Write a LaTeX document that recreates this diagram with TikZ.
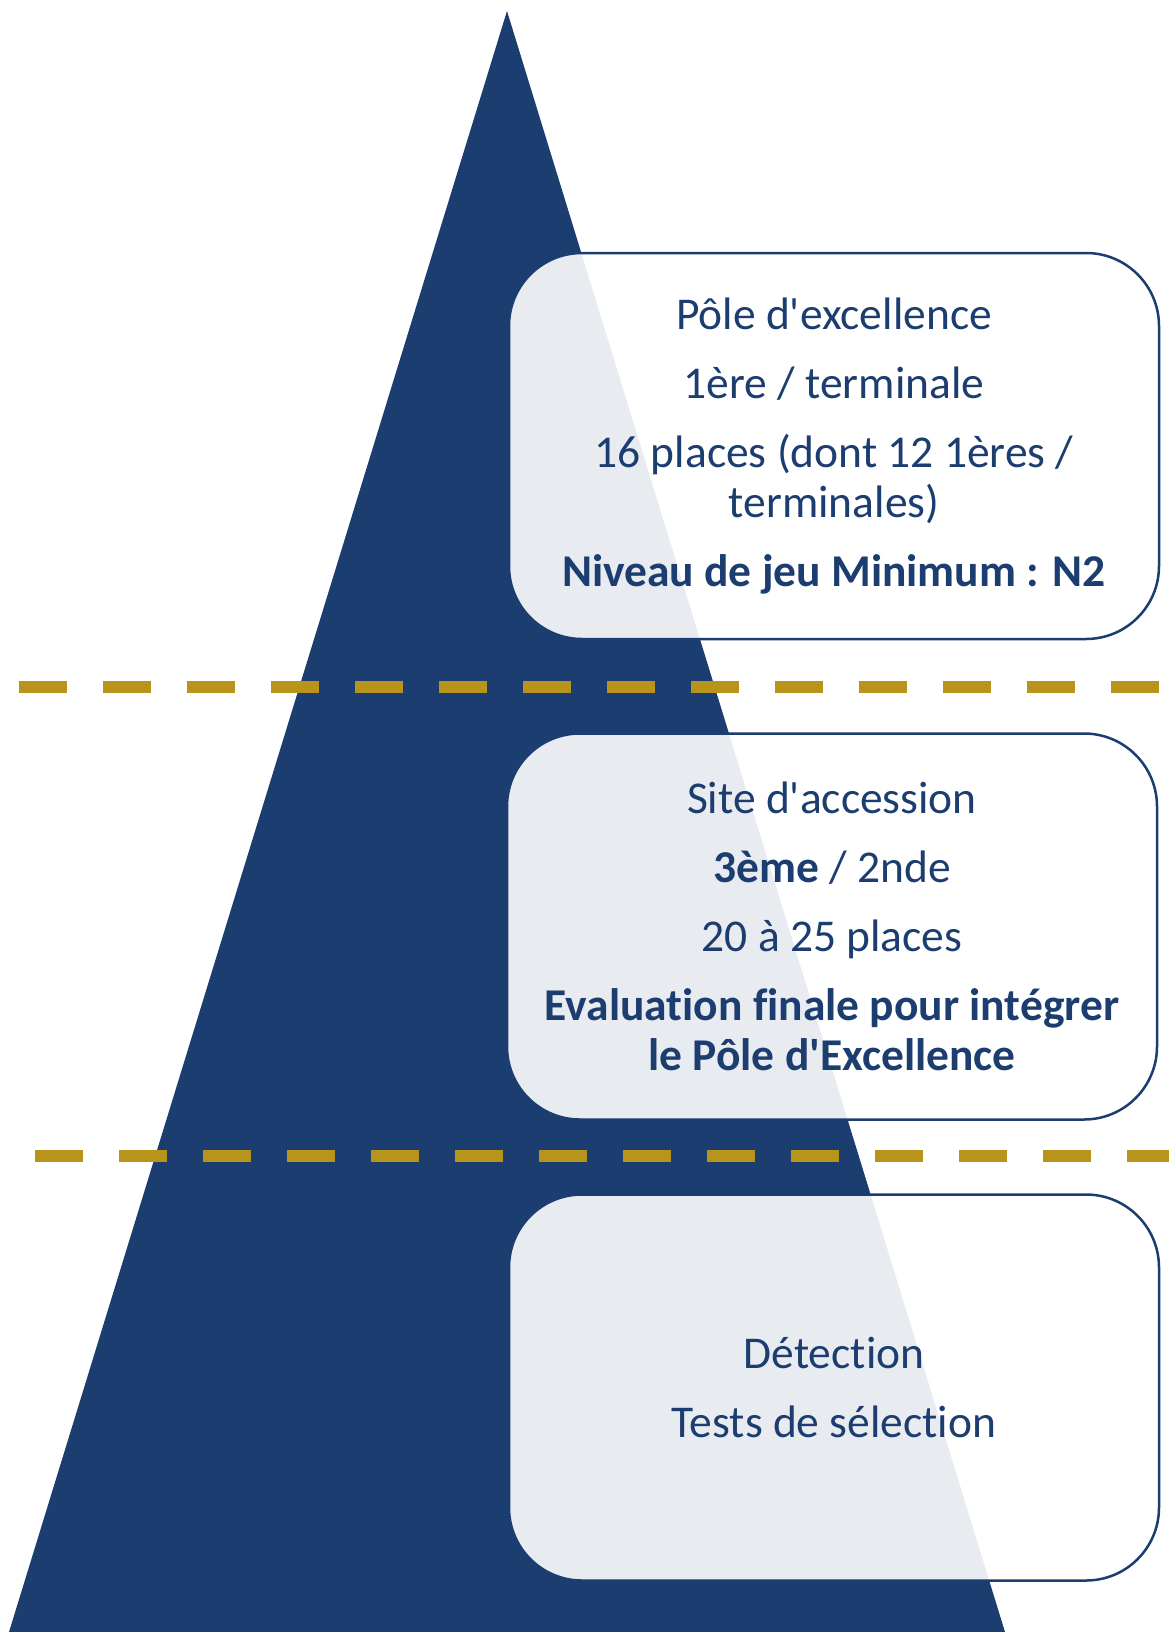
\documentclass[tikz,border=0pt]{standalone}
\usepackage{fontspec}
\setmainfont{Carlito}[Ligatures=NoCommon]
\definecolor{navy}{HTML}{1C3D6F}
\definecolor{gold}{HTML}{B8941B}
\tikzset{
  level/.style={draw=navy,line width=2.5pt,fill=white,fill opacity=0.9,text opacity=1,
    rounded corners=73pt,minimum width=650pt,minimum height=386pt,text width=610pt,
    inner xsep=20pt,align=flush center,text=navy,font=\fontsize{45.5}{50}\selectfont},
  cut/.style={draw=gold,line width=12pt,dash pattern=on 48pt off 36pt}
}

\begin{document}
\begin{tikzpicture}[x=1pt,y=-1pt]
      \useasboundingbox (0,0) rectangle (1169,1632);
      \coordinate (apex) at (507, 11);
      \coordinate (bl) at (9, 1632);
      \coordinate (br) at (1005, 1632);
      \fill[navy] (apex) -- (bl) -- (br) -- cycle;

      \coordinate (c1a) at (19, 687);
      \coordinate (c1b) at (1161, 687);
      \coordinate (c2a) at (35, 1156);
      \coordinate (c2b) at (1169, 1156);
      \draw[cut] (c1a) -- (c1b);
      \draw[cut] (c2a) -- (c2b);

      \node[level] (pole) at (834, 446) {P\^ole d\textquotesingle excellence\\[19pt]
        1\`ere / terminale\\[19pt]
        16 places (dont 12 1\`eres /\\ terminales)\\[19pt]
        \textbf{Niveau de jeu Minimum : N2}};
      \node[level] (site) at (832, 926.5) {Site d\textquotesingle accession\\[19pt]
        \textbf{3\`eme} / 2nde\\[19pt]
        20 \`a 25 places\\[19pt]
        \textbf{Evaluation finale pour int\'egrer\\ le P\^ole d\textquotesingle Excellence}};
      \node[level] (detect) at (834, 1387.5) {D\'etection\\[19pt]
        Tests de s\'election};
    \end{tikzpicture}
\end{document}
